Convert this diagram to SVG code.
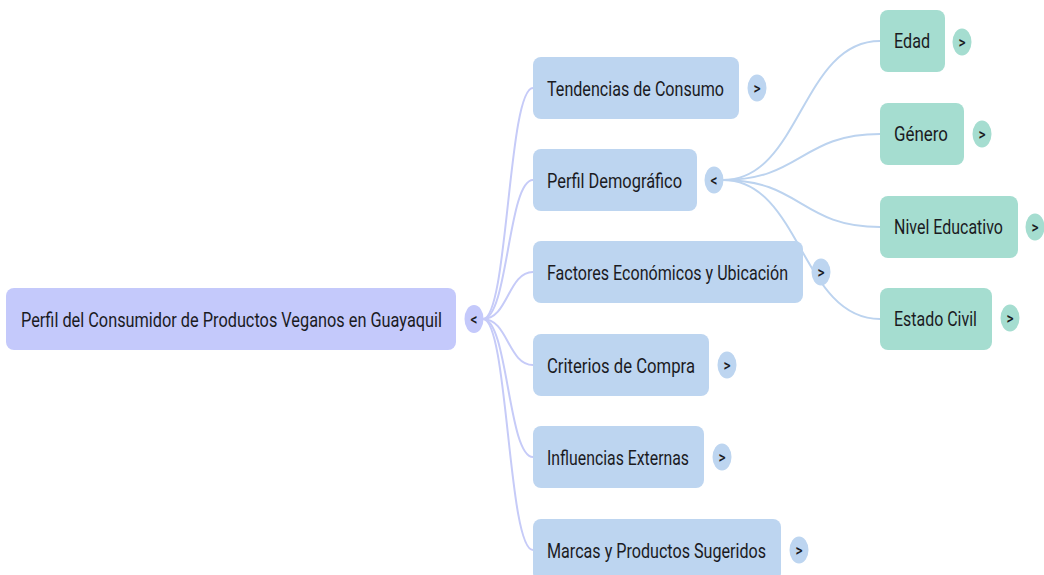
<svg xmlns="http://www.w3.org/2000/svg" width="1044" height="575" viewBox="0 0 1044 575">
<style>
.bg{fill:#ffffff}
.root{fill:#c4c9fb}
.l1{fill:#bdd5f0}
.l2{fill:#a5ddd0}
.t{font-family:Roboto,"Liberation Sans",sans-serif;font-size:21px;fill:#1b1b1f}
.tg{font-family:Roboto,"Liberation Sans",sans-serif;font-size:16px;font-weight:500;fill:#1b1b1f;text-anchor:middle}
.c0{fill:none;stroke:#c6cbf8;stroke-width:2}
.c1{fill:none;stroke:#bcd3ef;stroke-width:2}
</style>
<rect class="bg" x="0" y="0" width="1044" height="575"/>
<g id="connectors">
<path class="c0" d="M483,319 C508,319 508,88 533,88"/>
<path class="c0" d="M483,319 C508,319 508,180 533,180"/>
<path class="c0" d="M483,319 C508,319 508,272 533,272"/>
<path class="c0" d="M483,319 C508,319 508,365 533,365"/>
<path class="c0" d="M483,319 C508,319 508,457 533,457"/>
<path class="c0" d="M483,319 C508,319 508,550 533,550"/>
<path class="c1" d="M723,180 C801,180 801,41 880,41"/>
<path class="c1" d="M723,180 C801,180 801,134 880,134"/>
<path class="c1" d="M723,180 C801,180 801,227 880,227"/>
<path class="c1" d="M723,180 C801,180 801,319 880,319"/>
</g>
<g id="root">
<rect class="root" x="6" y="288" width="450" height="62" rx="8"/>
<text class="t" transform="translate(21,326.5) scale(0.78,1)" textLength="539.7" lengthAdjust="spacingAndGlyphs">Perfil del Consumidor de Productos Veganos en Guayaquil</text>
<ellipse class="root" cx="474" cy="319" rx="9.5" ry="14"/>
<text class="tg" transform="translate(474,324.5) scale(0.85,1)">&lt;</text>
</g>
<g id="tendencias">
<rect class="l1" x="533" y="57" width="206" height="62" rx="8"/>
<text class="t" transform="translate(547,95.5) scale(0.78,1)" textLength="226.9" lengthAdjust="spacingAndGlyphs">Tendencias de Consumo</text>
<ellipse class="l1" cx="757" cy="88" rx="9.5" ry="13.5"/>
<text class="tg" transform="translate(757,93.5) scale(0.85,1)">&gt;</text>
</g>
<g id="perfil-demografico">
<rect class="l1" x="533" y="149" width="164" height="62" rx="8"/>
<text class="t" transform="translate(547,187.5) scale(0.78,1)" textLength="173.1" lengthAdjust="spacingAndGlyphs">Perfil Demográfico</text>
<ellipse class="l1" cx="714" cy="180" rx="9.5" ry="13.5"/>
<text class="tg" transform="translate(714,185.5) scale(0.85,1)">&lt;</text>
</g>
<g id="factores">
<rect class="l1" x="533" y="241" width="270" height="62" rx="8"/>
<text class="t" transform="translate(547,279.5) scale(0.78,1)" textLength="309" lengthAdjust="spacingAndGlyphs">Factores Económicos y Ubicación</text>
<ellipse class="l1" cx="821" cy="272" rx="9.5" ry="13.5"/>
<text class="tg" transform="translate(821,277.5) scale(0.85,1)">&gt;</text>
</g>
<g id="criterios">
<rect class="l1" x="533" y="334" width="176" height="62" rx="8"/>
<text class="t" transform="translate(547,372.5) scale(0.78,1)" textLength="189.7" lengthAdjust="spacingAndGlyphs">Criterios de Compra</text>
<ellipse class="l1" cx="727" cy="365" rx="9.5" ry="13.5"/>
<text class="tg" transform="translate(727,370.5) scale(0.85,1)">&gt;</text>
</g>
<g id="influencias">
<rect class="l1" x="533" y="426" width="171" height="62" rx="8"/>
<text class="t" transform="translate(547,464.5) scale(0.78,1)" textLength="182.1" lengthAdjust="spacingAndGlyphs">Influencias Externas</text>
<ellipse class="l1" cx="722" cy="457" rx="9.5" ry="13.5"/>
<text class="tg" transform="translate(722,462.5) scale(0.85,1)">&gt;</text>
</g>
<g id="marcas">
<rect class="l1" x="533" y="519" width="248" height="62" rx="8"/>
<text class="t" transform="translate(547,557.5) scale(0.78,1)" textLength="280.8" lengthAdjust="spacingAndGlyphs">Marcas y Productos Sugeridos</text>
<ellipse class="l1" cx="799" cy="550" rx="9.5" ry="13.5"/>
<text class="tg" transform="translate(799,555.5) scale(0.85,1)">&gt;</text>
</g>
<g id="edad">
<rect class="l2" x="880" y="10" width="65" height="62" rx="8"/>
<text class="t" transform="translate(894,48) scale(0.78,1)" textLength="46.2" lengthAdjust="spacingAndGlyphs">Edad</text>
<ellipse class="l2" cx="962" cy="42" rx="9.5" ry="13.5"/>
<text class="tg" transform="translate(962,47.5) scale(0.85,1)">&gt;</text>
</g>
<g id="genero">
<rect class="l2" x="880" y="103" width="84" height="62" rx="8"/>
<text class="t" transform="translate(894,141) scale(0.78,1)" textLength="69.2" lengthAdjust="spacingAndGlyphs">Género</text>
<ellipse class="l2" cx="982" cy="134" rx="9.5" ry="13.5"/>
<text class="tg" transform="translate(982,139.5) scale(0.85,1)">&gt;</text>
</g>
<g id="nivel-educativo">
<rect class="l2" x="880" y="196" width="138" height="62" rx="8"/>
<text class="t" transform="translate(894,234) scale(0.78,1)" textLength="139.7" lengthAdjust="spacingAndGlyphs">Nivel Educativo</text>
<ellipse class="l2" cx="1035" cy="227" rx="9.5" ry="13.5"/>
<text class="tg" transform="translate(1035,232.5) scale(0.85,1)">&gt;</text>
</g>
<g id="estado-civil">
<rect class="l2" x="880" y="288" width="112" height="62" rx="8"/>
<text class="t" transform="translate(894,326) scale(0.78,1)" textLength="106.4" lengthAdjust="spacingAndGlyphs">Estado Civil</text>
<ellipse class="l2" cx="1010" cy="318" rx="9.5" ry="13.5"/>
<text class="tg" transform="translate(1010,323.5) scale(0.85,1)">&gt;</text>
</g>
</svg>
